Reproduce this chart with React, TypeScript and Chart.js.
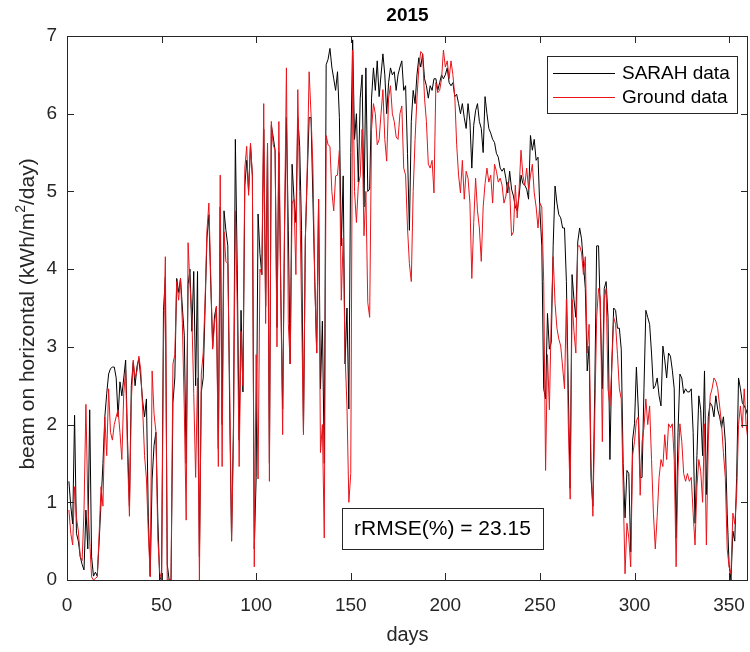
import React, { useEffect, useRef } from "react";
import { Chart, registerables } from "chart.js";

Chart.register(...registerables);

const chartTitle = "2015";
const xAxisTitle = "days";
const yAxisTitleParts = ["beam on horizontal (kWh/m", "2", "/day)"];
const seriesNames = ["SARAH data", "Ground data"];
const annotationText = "rRMSE(%) = 23.15";

const xTicks = [0, 50, 100, 150, 200, 250, 300, 350];
const yTicks = [0, 1, 2, 3, 4, 5, 6, 7];

// SARAH satellite data, day 1 .. 361
const sarah = [
  1.27, 0.95, 0.72, 2.12, 0.6, 0.5, 0.3, 0.2, 0.13, 0.9,
  0.4, 2.19, 0.3, 0.05, 0.1, 0.05, 0.5, 1.0, 1.5, 2.1,
  2.4, 2.65, 2.72, 2.74, 2.74, 2.6, 2.1, 2.55, 2.37, 2.6,
  2.83, 1.8, 0.95, 2.5, 2.8, 2.5, 2.75, 2.85, 2.6, 2.3,
  2.1, 2.33, 0.8, 0.05, 1.3, 1.73, 1.9, 0.8, 0.0, 0.05,
  3.47, 3.9, 0.2, 0.0, 0.0, 2.28, 2.6, 3.88, 3.7, 3.88,
  3.5, 3.15, 1.5, 3.8, 4.0, 3.2, 3.97, 2.5, 3.97, 0.3,
  2.42, 2.6, 3.5, 4.4, 4.7, 3.8, 3.0, 3.4, 3.52, 1.69,
  4.8, 2.0, 4.75, 4.5, 4.3, 2.2, 0.5, 2.0, 5.67, 4.0,
  1.8, 3.47, 2.42, 5.07, 5.4, 5.0, 5.6, 5.2, 0.4, 1.32,
  4.71, 4.2, 3.93, 5.8, 3.52, 5.62, 1.5, 5.85, 5.7, 5.53,
  3.25, 5.5, 3.75, 2.2, 4.5, 5.95, 4.5, 2.78, 5.35, 4.9,
  4.6, 5.95, 5.58, 4.5, 1.9, 4.39, 5.2, 5.95, 5.95, 4.9,
  3.84, 2.92, 4.9, 2.46, 3.33, 1.5, 6.63, 6.7, 6.84, 6.6,
  6.45, 6.3, 6.54, 5.95, 4.3, 5.2, 2.78, 3.5, 2.2, 5.5,
  6.95, 5.67, 6.0, 5.12, 6.2, 6.5, 4.8, 6.59, 5.0, 5.03,
  6.2, 6.59, 6.3, 6.68, 6.22, 6.5, 6.77, 6.5, 6.0, 6.4,
  6.59, 6.5, 6.54, 6.3, 6.5, 6.6, 6.68, 6.3, 6.36, 5.49,
  4.5, 5.9, 6.3, 6.13, 6.5, 6.72, 6.6, 6.77, 6.45, 6.36,
  6.2, 6.36, 6.3, 6.45, 6.45, 6.3, 6.4, 6.5, 6.45, 6.5,
  6.59, 6.4, 6.36, 6.4, 6.22, 6.25, 6.13, 6.0, 6.13, 5.95,
  5.81, 6.13, 5.9, 5.3, 5.85, 6.04, 6.13, 5.9, 5.81, 5.5,
  6.22, 6.0, 5.81, 5.75, 5.67, 5.63, 5.49, 5.44, 5.3, 5.26,
  5.3, 5.17, 4.98, 5.26, 5.03, 4.94, 4.8, 4.75, 4.94, 5.21,
  5.1, 5.08, 5.03, 4.9, 5.72, 5.53, 5.67, 5.4, 5.44, 4.75,
  4.3, 2.46, 2.33, 3.43, 2.97, 3.06, 4.3, 5.07, 4.85, 4.7,
  4.66, 4.53, 4.53, 3.84, 2.46, 1.18, 3.93, 3.61, 3.38, 4.35,
  4.53, 4.39, 4.07, 3.75, 2.69, 3.01, 1.32, 0.95, 2.46, 4.3,
  4.3, 3.38, 2.46, 3.75, 3.84, 3.38, 1.55, 2.79, 3.5, 3.47,
  3.24, 3.24, 2.97, 1.5, 0.8, 1.41, 1.37, 0.36, 1.8, 2.01,
  2.74, 2.2, 1.32, 1.32, 2.46, 3.47, 3.38, 3.29, 2.92, 2.46,
  2.5, 2.6, 2.37, 2.24, 3.01, 2.83, 2.6, 2.92, 2.88, 2.7,
  2.46, 0.54, 1.9, 2.65, 2.6, 2.4, 2.46, 2.42, 2.42, 2.46,
  1.9, 0.73, 1.6, 2.37, 2.19, 1.6, 2.69, 1.1, 2.1, 2.28,
  2.24, 2.1, 2.37, 2.19, 2.1, 1.96, 2.1, 1.78, 0.86, 0.2,
  0.0, 0.63, 0.5, 1.32, 2.6, 2.46, 2.28, 2.24, 2.19, 2.1,
  2.3,
];

// Ground measurements, day 1 .. 361
const ground = [
  0.9, 0.6, 0.45, 1.2, 0.8, 0.63, 0.3, 0.25, 0.9, 2.26,
  1.0, 0.5, 0.04, 0.0, 0.02, 0.04, 0.6, 1.2, 0.95, 2.1,
  1.6, 2.46, 1.9, 1.8, 2.0, 2.1, 2.19, 1.9, 1.55, 2.4,
  2.7, 1.6, 0.82, 2.3, 2.83, 2.6, 2.69, 2.88, 2.7, 2.2,
  1.6, 1.3, 0.6, 0.04, 2.69, 2.14, 1.91, 0.54, 0.1, 0.0,
  3.0, 4.16, 0.0, 0.0, 0.0, 2.78, 2.9, 3.84, 3.6, 3.88,
  3.3, 2.2, 0.77, 4.34, 3.8, 3.4, 2.4, 1.32, 2.6, 0.0,
  2.65, 2.92, 3.6, 4.5, 4.85, 3.9, 2.97, 3.3, 3.52, 1.46,
  5.21, 1.46, 4.48, 4.1, 4.07, 2.5, 0.5, 1.8, 4.75, 3.5,
  1.46, 3.2, 2.5, 5.3, 5.58, 4.95, 5.62, 5.2, 0.17, 2.9,
  1.3, 4.0, 3.93, 6.13, 3.3, 5.62, 1.27, 5.9, 5.6, 5.53,
  3.0, 5.9, 3.75, 1.87, 4.6, 6.59, 3.3, 2.78, 4.85, 4.9,
  3.93, 6.31, 5.0, 3.5, 1.87, 4.39, 5.3, 6.54, 6.0, 5.3,
  3.84, 2.92, 4.9, 1.64, 2.0, 0.54, 5.72, 5.6, 5.58, 5.0,
  4.75, 5.2, 5.21, 5.53, 3.6, 4.4, 2.9, 2.24, 1.0, 1.37,
  6.82, 5.0, 4.6, 5.08, 5.2, 5.8, 4.43, 5.0, 3.57, 3.38,
  5.8, 6.13, 6.0, 5.6, 5.67, 6.0, 6.31, 5.67, 5.39, 6.2,
  6.36, 6.0, 5.9, 5.7, 5.67, 6.0, 6.1, 5.3, 5.21, 4.53,
  4.07, 3.84, 5.0, 5.67, 6.2, 6.59, 6.8, 6.77, 6.2, 5.9,
  5.35, 5.3, 5.4, 4.98, 6.4, 6.27, 6.3, 6.45, 6.82, 6.6,
  6.68, 6.45, 6.68, 6.5, 6.22, 5.6, 5.21, 4.98, 5.4, 4.9,
  5.26, 5.17, 4.85, 3.88, 4.6, 5.17, 4.75, 4.53, 4.1, 4.8,
  5.1, 5.3, 5.12, 5.21, 4.85, 5.35, 5.26, 5.12, 5.17, 5.08,
  4.85, 4.94, 5.12, 5.03, 4.43, 4.48, 5.08, 4.66, 5.03, 5.53,
  5.2, 5.08, 5.3, 5.03, 5.2, 5.35, 4.98, 4.8, 4.53, 4.85,
  4.8, 3.84, 1.41, 2.9, 2.19, 3.38, 4.16, 3.56, 3.24, 3.1,
  3.01, 2.74, 2.46, 3.61, 2.01, 1.04, 3.61, 3.2, 2.92, 4.3,
  4.3, 4.21, 3.93, 4.16, 2.92, 3.29, 1.55, 0.82, 2.1, 3.38,
  3.75, 3.61, 1.78, 3.61, 3.75, 2.46, 2.24, 2.74, 3.38, 3.29,
  2.9, 2.46, 2.33, 1.2, 0.08, 0.73, 0.54, 0.17, 1.6, 1.78,
  2.05, 2.1, 1.09, 1.78, 1.96, 2.33, 2.0, 2.24, 1.55, 0.86,
  0.4, 0.82, 1.32, 1.55, 1.46, 1.87, 1.55, 2.01, 1.96, 2.01,
  1.55, 0.17, 1.4, 2.01, 1.78, 1.37, 1.27, 1.37, 1.27, 1.32,
  0.86, 0.45, 1.2, 1.55, 1.4, 1.0, 2.01, 0.45, 1.78, 2.37,
  2.46, 2.6, 2.56, 2.46, 2.24, 2.01, 1.64, 1.32, 0.4, 0.17,
  0.08, 0.86, 0.72, 1.09, 2.0, 2.24, 1.96, 2.46, 2.0, 1.8,
  1.5,
];

const days = sarah.map((_, i) => i + 1);

const FONT = "'Liberation Sans', Arial, Helvetica, sans-serif";
const AXIS_COLOR = "#262626";
const SARAH_COLOR = "#000000";
const GROUND_COLOR = "#e8141a";

const decorPlugin = {
  id: "matlabDecor",
  afterDraw(chart: any) {
    const { ctx, chartArea } = chart;
    const { left, right, top, bottom } = chartArea;
    const xs = chart.scales.x;
    const ys = chart.scales.y;
    ctx.save();

    // frame
    ctx.strokeStyle = AXIS_COLOR;
    ctx.lineWidth = 1;
    ctx.strokeRect(left + 0.5, top + 0.5, right - left - 1, bottom - top);

    // inward ticks
    const tl = 7;
    ctx.beginPath();
    xTicks.forEach((v) => {
      const px = Math.round(xs.getPixelForValue(v)) + 0.5;
      ctx.moveTo(px, bottom);
      ctx.lineTo(px, bottom - tl);
      ctx.moveTo(px, top);
      ctx.lineTo(px, top + tl);
    });
    yTicks.forEach((v) => {
      const py = Math.round(ys.getPixelForValue(v)) + 0.5;
      ctx.moveTo(left, py);
      ctx.lineTo(left + tl, py);
      ctx.moveTo(right, py);
      ctx.lineTo(right - tl, py);
    });
    ctx.stroke();

    // title
    ctx.fillStyle = "#000";
    ctx.font = `bold 19px ${FONT}`;
    ctx.textAlign = "center";
    ctx.textBaseline = "middle";
    ctx.fillText(chartTitle, (left + right) / 2, 16);

    // x axis title
    ctx.fillStyle = AXIS_COLOR;
    ctx.font = `20px ${FONT}`;
    ctx.fillText(xAxisTitle, (left + right) / 2, 635);

    // y axis title with superscript
    ctx.save();
    ctx.translate(28, (top + bottom) / 2 + 6);
    ctx.rotate(-Math.PI / 2);
    const mainFont = `21px ${FONT}`;
    const supFont = `14px ${FONT}`;
    ctx.font = mainFont;
    const w1 = ctx.measureText(yAxisTitleParts[0]).width;
    const w3 = ctx.measureText(yAxisTitleParts[2]).width;
    ctx.font = supFont;
    const w2 = ctx.measureText(yAxisTitleParts[1]).width;
    const total = w1 + w2 + w3;
    let cx = -total / 2;
    ctx.textAlign = "left";
    ctx.textBaseline = "middle";
    ctx.font = mainFont;
    ctx.fillText(yAxisTitleParts[0], cx, 0);
    cx += w1;
    ctx.font = supFont;
    ctx.fillText(yAxisTitleParts[1], cx, -7);
    cx += w2;
    ctx.font = mainFont;
    ctx.fillText(yAxisTitleParts[2], cx, 0);
    ctx.restore();

    // legend
    const lx = 547, ly = 56, lw = 190, lh = 57;
    ctx.fillStyle = "#fff";
    ctx.fillRect(lx, ly, lw, lh);
    ctx.strokeStyle = AXIS_COLOR;
    ctx.strokeRect(lx + 0.5, ly + 0.5, lw, lh);
    const rows = [
      { name: seriesNames[0], color: SARAH_COLOR, y: 73 },
      { name: seriesNames[1], color: GROUND_COLOR, y: 97 },
    ];
    ctx.font = `19px ${FONT}`;
    ctx.textAlign = "left";
    ctx.textBaseline = "middle";
    rows.forEach((r) => {
      ctx.strokeStyle = r.color;
      ctx.beginPath();
      ctx.moveTo(553, r.y + 0.5);
      ctx.lineTo(615, r.y + 0.5);
      ctx.stroke();
      ctx.fillStyle = "#000";
      ctx.fillText(r.name, 622, r.y + 1);
    });

    // annotation box
    const ax = 342, ay = 508, aw = 201, ah = 41;
    ctx.fillStyle = "#fff";
    ctx.fillRect(ax, ay, aw, ah);
    ctx.strokeStyle = AXIS_COLOR;
    ctx.strokeRect(ax + 0.5, ay + 0.5, aw, ah);
    ctx.fillStyle = "#000";
    ctx.font = `21px ${FONT}`;
    ctx.textAlign = "center";
    ctx.fillText(annotationText, ax + aw / 2, ay + ah / 2 + 1);

    ctx.restore();
  },
};

export default function App() {
  const canvasRef = useRef<HTMLCanvasElement | null>(null);

  useEffect(() => {
    if (!canvasRef.current) return;
    const chart = new Chart(canvasRef.current, {
      type: "line",
      data: {
        datasets: [
          {
            label: seriesNames[0],
            data: days.map((d, i) => ({ x: d, y: sarah[i] })),
            borderColor: SARAH_COLOR,
            borderWidth: 1,
            pointRadius: 0,
            tension: 0,
            order: 1,
          },
          {
            label: seriesNames[1],
            data: days.map((d, i) => ({ x: d, y: ground[i] })),
            borderColor: GROUND_COLOR,
            borderWidth: 1,
            pointRadius: 0,
            tension: 0,
            order: 0,
          },
        ],
      },
      options: {
        responsive: false,
        animation: false,
        layout: { padding: { top: 36, right: 2, left: 0, bottom: 0 } },
        plugins: {
          legend: { display: false },
          title: { display: false },
          tooltip: { enabled: false },
        },
        scales: {
          x: {
            type: "linear",
            min: 0,
            max: 360,
            grid: { display: false, drawTicks: false },
            border: { display: false },
            afterBuildTicks: (s: any) => {
              s.ticks = xTicks.map((v) => ({ value: v }));
            },
            afterFit: (s: any) => {
              s.height = 72;
              s.paddingLeft = 0;
              s.paddingRight = 0;
            },
            ticks: {
              autoSkip: false,
              maxRotation: 0,
              padding: 14,
              color: AXIS_COLOR,
              font: { family: FONT, size: 19 },
            },
          },
          y: {
            type: "linear",
            min: 0,
            max: 7,
            grid: { display: false, drawTicks: false },
            border: { display: false },
            afterBuildTicks: (s: any) => {
              s.ticks = yTicks.map((v) => ({ value: v }));
            },
            afterFit: (s: any) => {
              s.width = 67;
              s.paddingTop = 0;
              s.paddingBottom = 0;
            },
            ticks: {
              autoSkip: false,
              padding: 10,
              color: AXIS_COLOR,
              font: { family: FONT, size: 19 },
            },
          },
        },
      },
      plugins: [decorPlugin],
    });
    return () => chart.destroy();
  }, []);

  return (
    <div style={{ position: "absolute", left: 0, top: 0, width: 750, height: 652, background: "#fff" }}>
      <canvas ref={canvasRef} width={750} height={652} />
    </div>
  );
}
